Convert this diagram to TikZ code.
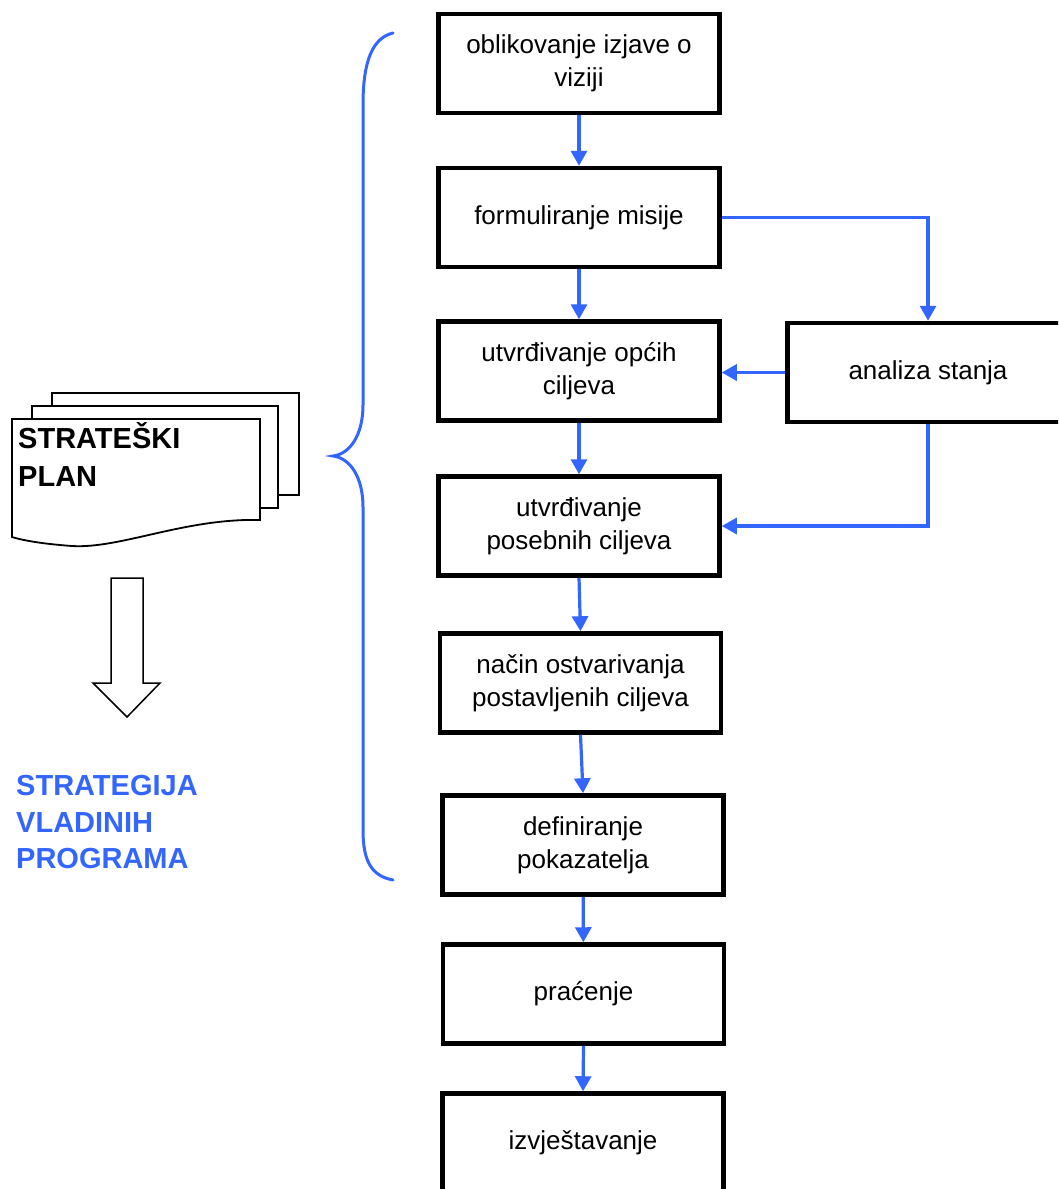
\documentclass[tikz,border=0pt]{standalone}
\usepackage{fontspec}
\setmainfont{Liberation Sans}
\usetikzlibrary{arrows.meta}
\definecolor{fblue}{RGB}{51,102,255}
\begin{document}
\begin{tikzpicture}[x=1pt,y=-1pt,
  stepbox/.style={draw=black,line width=4.5pt,fill=white,minimum width=281pt,minimum height=99pt,
    align=center,font=\fontsize{26}{33}\selectfont,inner sep=2pt},
  flow/.style={draw=fblue,line width=3.2pt,-{Triangle[length=15pt,width=16pt]}},
  bracestyle/.style={draw=fblue,line width=3pt,line cap=round},
  page/.style={draw=black,line width=1.8pt,fill=white,line join=miter},
  biglabel/.style={anchor=base west,inner sep=0pt,font=\fontsize{29}{36}\selectfont\bfseries}]
\clip (0,0) rectangle (1058,1189);
\fill[white] (0,0) rectangle (1058,1189);

% flow boxes
\node[stepbox] (b1) at (579,63.5) {oblikovanje izjave o\\viziji};
\node[stepbox] (b2) at (579,217.5) {formuliranje misije};
\node[stepbox] (b3) at (579,371) {utvrđivanje općih\\ciljeva};
\node[stepbox] (b4) at (579,526) {utvrđivanje\\posebnih ciljeva};
\node[stepbox] (b5) at (580.5,683) {način ostvarivanja\\postavljenih ciljeva};
\node[stepbox] (b6) at (583,845) {definiranje\\pokazatelja};
\node[stepbox] (b7) at (583.5,994) {praćenje};
\node[stepbox] (b8) at (583,1143) {izvještavanje};
\node[stepbox] (an) at (928,372.5) {analiza stanja};

% connectors
\draw[flow] (b1) -- (b2);
\draw[flow] (b2) -- (b3);
\draw[flow] (b3) -- (b4);
\draw[flow] (b4.south) -- (b5.north);
\draw[flow] (b5.south) -- (b6.north);
\draw[flow] (b6) -- (b7);
\draw[flow] (b7.south) -- (b8.north);
\draw[flow] (b2.east) -| (an.north);
\draw[flow] (an.west) -- (an.west -| b3.east);
\draw[flow] (an.south) |- (b4.east);

% brace
\coordinate (brtop) at (393,33);
\coordinate (brtip) at (333,456);
\coordinate (brbot) at (393,880);
\draw[bracestyle] (brtop) .. controls (372,38) and (363,62) .. (363,105)
  -- (363,405) .. controls (363,435) and (350,454) .. (brtip)
  .. controls (350,458) and (363,477) .. (363,507)
  -- (363,830) .. controls (363,862) and (372,876) .. (brbot);

% document stack
\draw[page] (52,393) rectangle (299,495);
\draw[page] (32,406) rectangle (278,508);
\draw[page] (12,419) -- (260,419) -- (260,520)
  .. controls (185,518) and (120,549) .. (72,546)
  .. controls (45,544) and (25,541) .. (12,537) -- cycle;
\node[biglabel] (sp1) at (18,448) {STRATEŠKI};
\node[biglabel] (sp2) at (18,486) {PLAN};

% hollow arrow
\draw[draw=black,line width=1.5pt,fill=white,line join=miter]
  (111,578) -- (143,578) -- (143,683) -- (160,683) -- (127,717) -- (93,683) -- (111,683) -- cycle;

% blue label
\node[biglabel,text=fblue] (sv1) at (16,795) {STRATEGIJA};
\node[biglabel,text=fblue] (sv2) at (16,832) {VLADINIH};
\node[biglabel,text=fblue] (sv3) at (16,868) {PROGRAMA};
\end{tikzpicture}
\end{document}
